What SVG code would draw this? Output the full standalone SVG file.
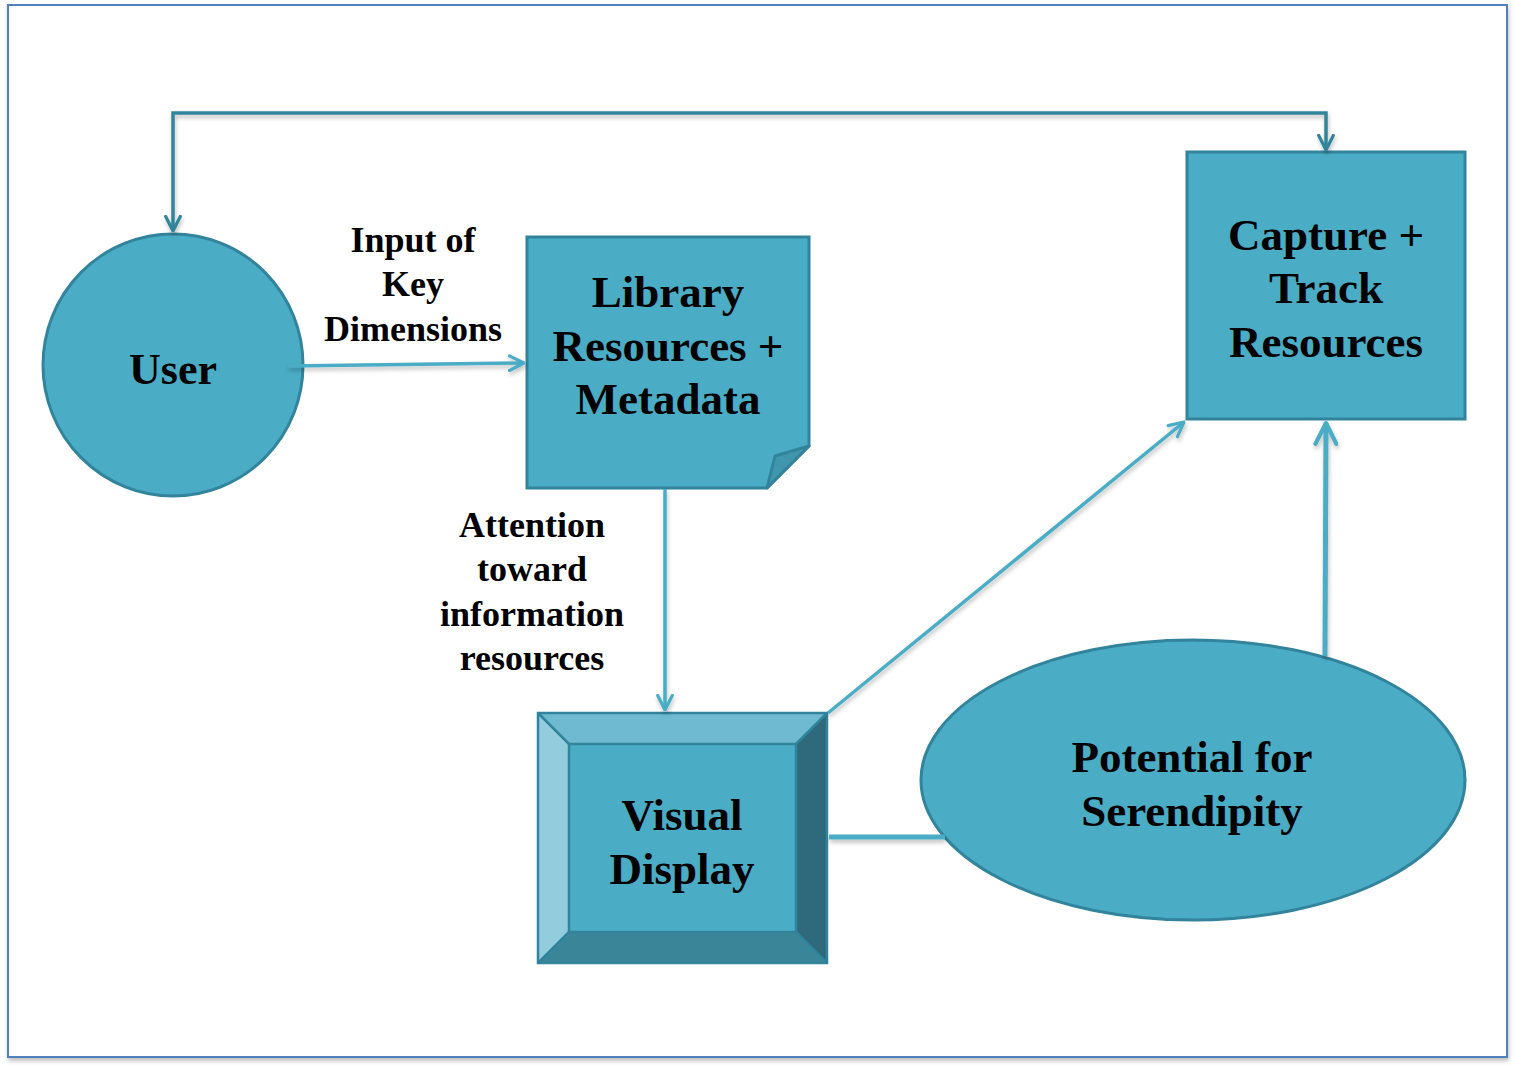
<svg xmlns="http://www.w3.org/2000/svg" width="1515" height="1068" viewBox="0 0 1515 1068">
<defs>
<style>
.node{fill:#4bacc6;stroke:#31849b;stroke-width:3}
.t{font-family:"Liberation Serif","Times New Roman",serif;font-weight:bold;text-anchor:middle;fill:#000}
.big{font-size:45px}
.lbl{font-size:36px}
.dk{fill:none;stroke:#31849b;stroke-width:3.5}
.lt{fill:none;stroke:#4bacc6;stroke-width:3.5}
.thick{stroke-width:5}
</style>
<filter id="sh" x="-10%" y="-10%" width="120%" height="130%">
<feDropShadow dx="1" dy="3" stdDeviation="2" flood-color="#000" flood-opacity="0.25"/>
</filter>
<marker id="ad" viewBox="0 0 12 12" refX="11" refY="6" markerWidth="5" markerHeight="5" markerUnits="strokeWidth" orient="auto-start-reverse">
<path d="M1,1 L11,6 L1,11" fill="none" stroke="#31849b" stroke-width="2.2" stroke-linecap="round" stroke-linejoin="round"/>
</marker>
<marker id="al" viewBox="0 0 12 12" refX="11" refY="6" markerWidth="5" markerHeight="5" markerUnits="strokeWidth" orient="auto">
<path d="M1,1 L11,6 L1,11" fill="none" stroke="#4bacc6" stroke-width="2.2" stroke-linecap="round" stroke-linejoin="round"/>
</marker>
<marker id="al2" viewBox="0 0 12 12" refX="11" refY="6" markerWidth="5" markerHeight="5" markerUnits="strokeWidth" orient="auto">
<path d="M1,1 L11,6 L1,11" fill="none" stroke="#4bacc6" stroke-width="2" stroke-linecap="round" stroke-linejoin="round"/>
</marker>
</defs>
<rect width="1515" height="1068" fill="#fff"/>
<rect x="8" y="5" width="1499" height="1052" fill="#fff" stroke="#4f81bd" stroke-width="2" filter="url(#sh)"/>

<g id="user">
<ellipse class="node" cx="173" cy="365" rx="130" ry="131"/>
<text class="t" x="173" y="384" font-size="44">User</text>
</g>

<g id="library">
<path class="node" d="M527,237 L809,237 L809,446 L767,488 L527,488 Z"/>
<path d="M809,446 L775,456 L767,488 Z" fill="#3f96ad" stroke="#31849b" stroke-width="3" stroke-linejoin="round"/>
<text class="t big" x="668" y="307">Library</text>
<text class="t big" x="668" y="361">Resources +</text>
<text class="t big" x="668" y="414">Metadata</text>
</g>

<g id="capture">
<rect class="node" x="1187" y="152" width="278" height="267"/>
<text class="t big" x="1326" y="250">Capture +</text>
<text class="t big" x="1326" y="303">Track</text>
<text class="t big" x="1326" y="357">Resources</text>
</g>

<g id="visual">
<rect x="538" y="713" width="289" height="250" fill="#4bacc6"/>
<path d="M538,713 L827,713 L796,744 L569,744 Z" fill="#6fbad0"/>
<path d="M538,713 L569,744 L569,932 L538,963 Z" fill="#93cddd"/>
<path d="M827,713 L827,963 L796,932 L796,744 Z" fill="#2e6a7b"/>
<path d="M538,963 L827,963 L796,932 L569,932 Z" fill="#3b8599"/>
<g fill="none" stroke="#31849b" stroke-width="2.5">
<rect x="538" y="713" width="289" height="250"/>
<rect x="569" y="744" width="227" height="188"/>
<path d="M538,713 L569,744 M827,713 L796,744 M538,963 L569,932 M827,963 L796,932"/>
</g>
<text class="t big" x="682" y="830">Visual</text>
<text class="t big" x="682" y="884">Display</text>
</g>

<g id="serendipity">
<ellipse class="node" cx="1193" cy="780" rx="272" ry="140"/>
<text class="t big" x="1192" y="772">Potential for</text>
<text class="t big" x="1192" y="826">Serendipity</text>
</g>

<g id="connectors" filter="url(#sh)">
<path class="dk" d="M173,231 L173,113 L1326,113 L1326,150" marker-start="url(#ad)" marker-end="url(#ad)"/>
<path class="lt" d="M288,366 L524,363" marker-end="url(#al)"/>
<path class="lt" d="M665,489 L665,710" marker-end="url(#al)"/>
<path class="lt" d="M828,713 L1184,422" marker-end="url(#al)"/>
<path class="lt thick" d="M1325,656 L1326,423" marker-end="url(#al2)"/>
<path class="lt thick" d="M829,837 L945,837"/>
</g>

<g id="labels">
<text class="t lbl" x="413" y="252">Input of</text>
<text class="t lbl" x="413" y="296">Key</text>
<text class="t lbl" x="413" y="341">Dimensions</text>
<text class="t lbl" x="532" y="537">Attention</text>
<text class="t lbl" x="532" y="581">toward</text>
<text class="t lbl" x="532" y="626">information</text>
<text class="t lbl" x="532" y="670">resources</text>
</g>
</svg>
